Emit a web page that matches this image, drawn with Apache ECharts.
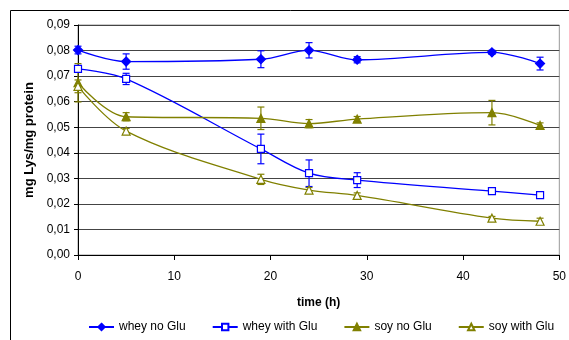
<!DOCTYPE html>
<html>
<head>
<meta charset="utf-8">
<script src="https://cdn.jsdelivr.net/npm/echarts@6/dist/echarts.min.js"></script>
<style>
  html, body { margin: 0; padding: 0; background: #fff; }
  #chart { width: 569px; height: 340px; }
</style>
</head>
<body>
<div id="chart"></div>
<script>
// Sampling times (h)
var times = [0, 5, 19, 24, 29, 43, 48];

// Lysine content, mg Lys / mg protein
var wheyNoGlu   = [0.0802, 0.0757, 0.0766, 0.0801, 0.0764, 0.0793, 0.0749];
var wheyWithGlu = [0.0728, 0.0689, 0.0415, 0.0320, 0.0293, 0.0250, 0.0234];
var soyNoGlu    = [0.0674, 0.0541, 0.0535, 0.0514, 0.0532, 0.0557, 0.0507];
var soyWithGlu  = [0.0660, 0.0485, 0.0296, 0.0254, 0.0233, 0.0144, 0.0132];

// Standard deviations
var wheyNoGluErr   = [0.0015, 0.0030, 0.0033, 0.0030, 0.0012, 0.0008, 0.0025];
var wheyWithGluErr = [0.0012, 0.0022, 0.0058, 0.0052, 0.0029, 0.0006, 0.0007];
var soyNoGluErr    = [0.0075, 0.0016, 0.0044, 0.0016, 0.0010, 0.0048, 0.0010];
var soyWithGluErr  = [0.0025, 0.0010, 0.0020, 0.0010, 0.0010, 0.0007, 0.0012];

var seriesNames = ['whey no Glu', 'whey with Glu', 'soy no Glu', 'soy with Glu'];

var BLUE = '#0000ff';
var OLIVE = '#808000';

function pairs(vals) {
  return times.map(function (t, i) { return [t, vals[i]]; });
}
function errRows(vals, errs) {
  return times.map(function (t, i) { return [t, vals[i], errs[i]]; });
}

function lineSeries(name, vals, color, symbol, size, filled) {
  return {
    name: name,
    type: 'line',
    smooth: 0.35,
    data: pairs(vals),
    symbol: symbol,
    symbolSize: size,
    showAllSymbol: true,
    z: 3,
    lineStyle: { color: color, width: 1.3 },
    itemStyle: { color: filled ? color : '#ffffff', borderColor: color, borderWidth: 1.2 },
    emphasis: { disabled: true }
  };
}

function errorSeries(vals, errs, color) {
  return {
    type: 'custom',
    data: errRows(vals, errs),
    encode: { x: 0, y: 1 },
    z: 2,
    silent: true,
    renderItem: function (params, api) {
      var x = api.value(0), v = api.value(1), e = api.value(2);
      var top = api.coord([x, v + e]);
      var bot = api.coord([x, v - e]);
      var hw = 3.5;
      var style = { stroke: color, lineWidth: 1.2, fill: null };
      return {
        type: 'group',
        children: [
          { type: 'line', shape: { x1: top[0], y1: top[1], x2: bot[0], y2: bot[1] }, style: style },
          { type: 'line', shape: { x1: top[0] - hw, y1: top[1], x2: top[0] + hw, y2: top[1] }, style: style },
          { type: 'line', shape: { x1: bot[0] - hw, y1: bot[1], x2: bot[0] + hw, y2: bot[1] }, style: style }
        ]
      };
    }
  };
}

var chart = echarts.init(document.getElementById('chart'), null, { renderer: 'canvas' });

chart.setOption({
  animation: false,
  backgroundColor: '#ffffff',
  textStyle: { fontFamily: 'Liberation Sans, Arial, sans-serif' },
  graphic: [{
    type: 'rect',
    shape: { x: 10.5, y: 10.5, width: 700, height: 500 },
    style: { fill: null, stroke: '#000', lineWidth: 1 },
    silent: true,
    z: -10
  }],
  grid: {
    left: 78, right: 6, top: 25, bottom: 85,
    show: true, borderColor: '#999', borderWidth: 1, backgroundColor: '#fff'
  },
  legend: {
    data: seriesNames,
    left: 83, top: 316,
    itemWidth: 25, itemHeight: 8, itemGap: 26,
    textStyle: { fontSize: 12, color: '#000', fontFamily: 'Liberation Sans, Arial, sans-serif' }
  },
  xAxis: {
    type: 'value', min: 0, max: 50, interval: 10,
    name: 'time (h)', nameLocation: 'middle', nameGap: 42,
    nameTextStyle: { fontWeight: 'bold', fontSize: 12, color: '#000' },
    axisLine: { show: true, lineStyle: { color: '#000', width: 1 } },
    axisTick: { show: true, inside: false, length: 5, lineStyle: { color: '#000' } },
    axisLabel: { color: '#000', fontSize: 12, margin: 16 },
    splitLine: { show: false }
  },
  yAxis: {
    type: 'value', min: 0, max: 0.09, interval: 0.01,
    name: 'mg Lys/mg protein', nameLocation: 'middle', nameGap: 35,
    nameTextStyle: { fontWeight: 'bold', fontSize: 13, color: '#000' },
    axisLine: { show: true, lineStyle: { color: '#000', width: 1 } },
    axisTick: { show: true, inside: false, length: 4, lineStyle: { color: '#000' } },
    axisLabel: {
      color: '#000', fontSize: 12, margin: 8,
      formatter: function (v) { return v.toFixed(2).replace('.', ','); }
    },
    splitLine: { show: true, lineStyle: { color: '#444', width: 1 } }
  },
  series: [
    lineSeries(seriesNames[0], wheyNoGlu, BLUE, 'diamond', 9, true),
    lineSeries(seriesNames[1], wheyWithGlu, BLUE, 'rect', 7, false),
    lineSeries(seriesNames[2], soyNoGlu, OLIVE, 'triangle', 8, true),
    lineSeries(seriesNames[3], soyWithGlu, OLIVE, 'triangle', 8, false),
    errorSeries(wheyNoGlu, wheyNoGluErr, BLUE),
    errorSeries(wheyWithGlu, wheyWithGluErr, BLUE),
    errorSeries(soyNoGlu, soyNoGluErr, OLIVE),
    errorSeries(soyWithGlu, soyWithGluErr, OLIVE)
  ]
});
</script>
</body>
</html>
